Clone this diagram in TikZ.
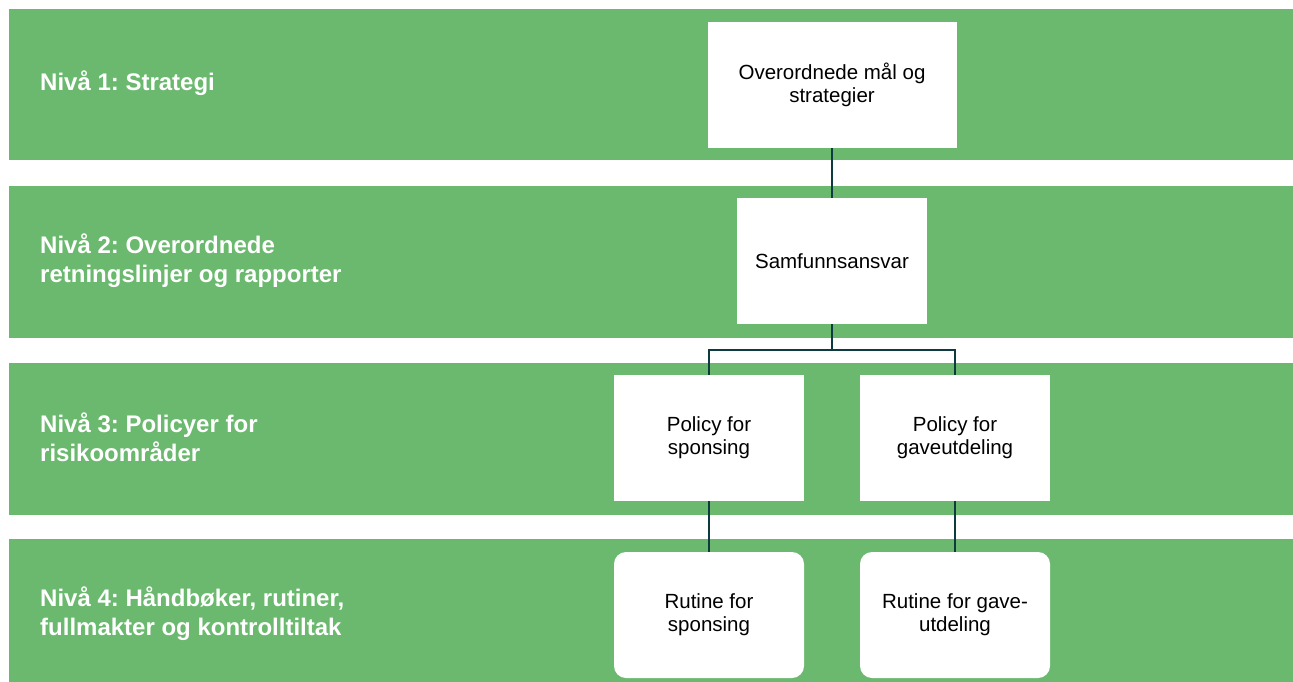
\documentclass[tikz,border=0pt]{standalone}
\usepackage{fontspec}
\setmainfont{Liberation Sans}
\usetikzlibrary{positioning}
\definecolor{bandgreen}{RGB}{107,185,110}
\definecolor{linkteal}{RGB}{14,59,64}
\frenchspacing

\begin{document}
\begin{tikzpicture}[x=1pt, y=-1pt,
    lvllabel/.style={anchor=west, inner sep=0pt, text=white, font=\fontsize{24}{29}\selectfont\bfseries, align=left},
    box/.style={fill=white, minimum width=190pt, minimum height=126pt, align=center,
                font=\fontsize{20.5}{23}\selectfont, inner sep=0pt},
    roundbox/.style={box, rounded corners=12pt},
    link/.style={draw=linkteal, line width=1.6pt}]
\useasboundingbox (0,0) rectangle (1293,682);

\foreach \top/\bot in {9/160, 186/338, 363/515, 539/682}
        \fill [bandgreen] (9,\top) rectangle (1293,\bot);

\node [lvllabel] (lvl1) at (40,83) {Nivå 1: Strategi};
\node [lvllabel] (lvl2) at (40,261) {Nivå 2: Overordnede\\retningslinjer og rapporter};
\node [lvllabel] (lvl3) at (40,437) {Nivå 3: Policyer for\\risikoområder};
\node [lvllabel] (lvl4) at (40,614) {Nivå 4: Håndbøker, rutiner,\\fullmakter og kontrolltiltak};

\node [box, minimum width=249pt] (goals) at (832,85) {Overordnede mål og\\strategier};
\node [box] (csr) at (832,261) {Samfunnsansvar};
\node [box] (polspons) at (709,438) {Policy for\\sponsing};
\node [box] (polgift) at (955,438) {Policy for\\gaveutdeling};
\node [roundbox] (rutspons) at (709,615) {Rutine for\\sponsing};
\node [roundbox] (rutgift) at (955,615) {Rutine for gave-\\utdeling};

\draw [link] (goals) -- (csr);
\draw [link] (csr.south) -- ++(0,26) -| (polspons.north);
\draw [link] (csr.south) -- ++(0,26) -| (polgift.north);
\draw [link] (polspons) -- (rutspons);
\draw [link] (polgift) -- (rutgift);
\end{tikzpicture}
\end{document}
